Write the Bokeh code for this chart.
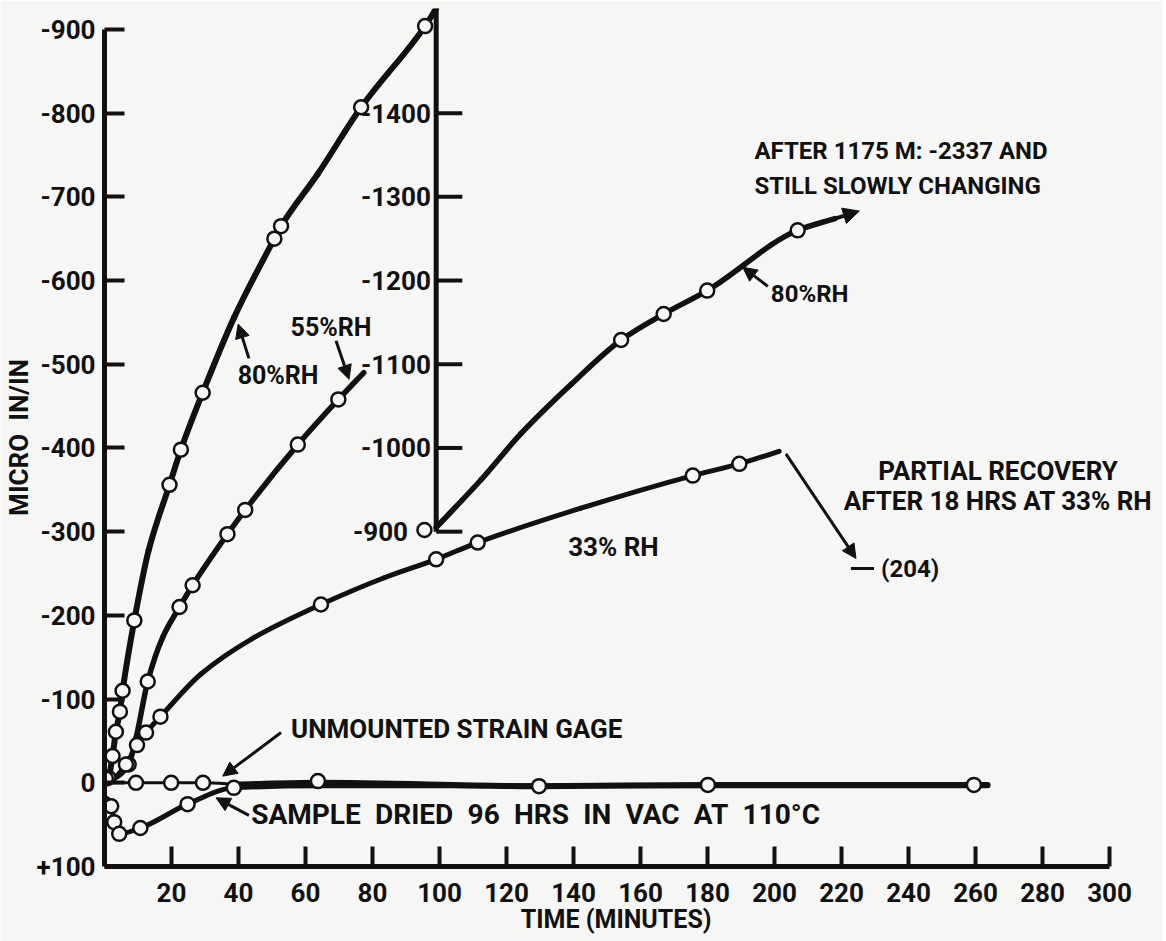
from bokeh.plotting import figure
from bokeh.models import Range1d, FixedTicker, Arrow, NormalHead, Label
from bokeh.core.properties import value
from bokeh.embed import file_html
from bokeh.resources import INLINE

# ---------------- data ----------------
# time in minutes, strain in micro in/in (negative = upward)
x_ticks = [20, 40, 60, 80, 100, 120, 140, 160, 180, 200, 220, 240, 260, 280, 300]
y_ticks = [-900, -800, -700, -600, -500, -400, -300, -200, -100, 0, 100]

# inner (broken) scale for the 80% RH continuation
inner_ticks = [-900, -1000, -1100, -1200, -1300, -1400]
INNER_OFFSET = 600          # inner value = outer value - 600
INNER_AXIS_T = 99

# 80 % RH (outer scale) - drawn curve and measured points
rh80_curve_t = [0, 1.2, 2.4, 3.4, 4.6, 5.4, 8.9, 13.2, 19.4, 22.8, 29.3, 38.7, 50.7, 52.7, 63.6, 76.6, 95.7, 99]
rh80_curve_s = [0, -6, -32, -61, -85, -110, -194, -278, -356, -398, -466, -556, -650, -665, -727, -807, -904, -925]
rh80_pts_t = [1.2, 2.4, 3.4, 4.6, 5.4, 8.9, 19.4, 22.8, 29.3, 50.7, 52.7, 76.6, 95.7]
rh80_pts_s = [-6, -32, -61, -85, -110, -194, -356, -398, -466, -650, -665, -807, -904]

# 80 % RH continued (inner scale)
rh80b_curve_t = [99, 112.4, 124.3, 139.3, 154.2, 166.9, 179.9, 206.9, 218]
rh80b_curve_s = [-905, -962, -1017, -1076, -1129, -1160, -1188, -1260, -1274]
rh80b_pts_t = [95.5, 154.2, 166.9, 179.9, 206.9]
rh80b_pts_s = [-902, -1129, -1160, -1188, -1260]

# 55 % RH
rh55_curve_t = [0, 4, 7.2, 9.5, 12.9, 17.4, 22.4, 26.3, 36.7, 42, 57.7, 69.8, 77.4]
rh55_curve_s = [0, -8, -22, -55, -121, -174, -210, -236, -297, -326, -404, -458, -490]
rh55_pts_t = [7.2, 12.9, 22.4, 26.3, 36.7, 42, 57.7, 69.8]
rh55_pts_s = [-22, -121, -210, -236, -297, -326, -404, -458]

# 33 % RH
rh33_curve_t = [0, 3, 6.4, 9.7, 12.4, 16.7, 28.8, 44, 64.6, 83.5, 99, 111.4, 142.2, 175.6, 189.5, 201.4]
rh33_curve_s = [0, -6, -22, -45, -60, -79, -130, -172, -213, -245, -267, -287, -328, -367, -381, -396]
rh33_pts_t = [6.4, 9.7, 12.4, 16.7, 64.6, 99, 111.4, 175.6, 189.5]
rh33_pts_s = [-22, -45, -60, -79, -213, -267, -287, -367, -381]

# unmounted strain gage
gage_curve_t = [0, 9.4, 19.9, 29.4, 40, 63.7, 129.7, 180.1, 259.5, 263.6]
gage_curve_s = [0, 0, 0, 0, 2, 0, 4, 2.5, 2.5, 2.5]
gage_pts_t = [0.4, 9.4, 19.9, 29.4, 63.7, 129.7, 180.1, 259.5]
gage_pts_s = [-5, 0, 0, 0, -2, 4, 2.5, 2.5]

# sample dried 96 hrs in vac at 110 C
dried_curve_t = [0, 2.0, 2.9, 3.6, 4.4, 10.7, 24.8, 38.6, 63.7, 263.6]
dried_curve_s = [25, 28, 47, 58, 61, 54, 25.5, 6, 3.5, 3.5]
dried_pts_t = [0, 2.0, 2.9, 4.4, 10.7, 24.8, 38.6]
dried_pts_s = [25, 28, 47, 61, 54, 25.5, 6]

# ---------------- figure ----------------
INK = "#111111"
BG = "#f6f6f4"
FONT = "Roboto"
EN = "\u2002"

p = figure(width=1162, height=941, output_backend="svg", toolbar_location=None,
           x_range=Range1d(0, 314.6), y_range=Range1d(100, -925),
           min_border_left=104, min_border_right=4, min_border_top=8, min_border_bottom=75,
           background_fill_color=BG, border_fill_color=BG)
p.grid.visible = False
p.outline_line_color = None

for ax in (p.xaxis[0], p.yaxis[0]):
    ax.axis_line_width = 5
    ax.axis_line_color = INK
    ax.major_tick_line_width = 4
    ax.major_tick_line_color = INK
    ax.major_tick_out = 0
    ax.major_tick_in = 20
    ax.minor_tick_line_color = None
    ax.major_label_text_font = FONT
    ax.major_label_text_font_style = "bold"
    ax.major_label_text_font_size = "26px"
    ax.major_label_text_color = INK
    ax.axis_label_text_font = FONT
    ax.axis_label_text_font_style = "bold"
    ax.axis_label_text_color = INK

p.xaxis.ticker = FixedTicker(ticks=x_ticks)
p.xaxis.bounds = (0, 300)
p.xaxis.major_label_standoff = 16
p.xaxis.axis_label = "TIME (MINUTES)\u2003\u2009"
p.xaxis.axis_label_text_font_size = "25px"
p.xaxis.axis_label_standoff = 0

p.yaxis.ticker = FixedTicker(ticks=y_ticks)
p.yaxis.bounds = (-900, 100)
p.yaxis.major_label_overrides = {v: ("+%d" % v if v > 0 else "%d" % v) for v in y_ticks}
p.yaxis.major_label_standoff = 9
p.yaxis.axis_label = "MICRO" + EN + "IN/IN"
p.yaxis.axis_label_text_font_size = "26px"
p.yaxis.axis_label_standoff = 0

# inner axis
inner_y = [v + INNER_OFFSET for v in inner_ticks]
p.segment(x0=[INNER_AXIS_T], y0=[inner_y[0]], x1=[INNER_AXIS_T], y1=[-925], line_width=5, line_color=INK)
p.segment(x0=[INNER_AXIS_T] * len(inner_y), y0=inner_y, x1=[INNER_AXIS_T + 7.8] * len(inner_y), y1=inner_y,
          line_width=4, line_color=INK)
inner_lab_x = [INNER_AXIS_T - 8.4 if i == 0 else INNER_AXIS_T - 1.6 for i in range(len(inner_y))]
p.text(x=inner_lab_x, y=inner_y, text=[str(v) for v in inner_ticks], text_font=value(FONT),
       text_font_style="bold", text_font_size="26px", text_align="right", text_baseline="middle",
       text_color=INK)

# smooth, shape-preserving curves through the read path points (PCHIP drawn as Bezier segments)
def curve(t, s, w):
    n = len(t)
    h = [t[i + 1] - t[i] for i in range(n - 1)]
    d = [(s[i + 1] - s[i]) / h[i] for i in range(n - 1)]
    m = [0.0] * n
    m[0], m[-1] = d[0], d[-1]
    for i in range(1, n - 1):
        if d[i - 1] * d[i] <= 0:
            m[i] = 0.0
        else:
            w1 = 2 * h[i] + h[i - 1]
            w2 = h[i] + 2 * h[i - 1]
            m[i] = (w1 + w2) / (w1 / d[i - 1] + w2 / d[i])
    x0 = t[:-1]; y0 = s[:-1]; x1 = t[1:]; y1 = s[1:]
    cx0 = [t[i] + h[i] / 3 for i in range(n - 1)]
    cy0 = [s[i] + m[i] * h[i] / 3 for i in range(n - 1)]
    cx1 = [t[i + 1] - h[i] / 3 for i in range(n - 1)]
    cy1 = [s[i + 1] - m[i + 1] * h[i] / 3 for i in range(n - 1)]
    p.bezier(x0=x0, y0=y0, x1=x1, y1=y1, cx0=cx0, cy0=cy0, cx1=cx1, cy1=cy1,
             line_width=w, line_color=INK, line_cap="round")

def pts(t, s):
    p.scatter(t, s, marker="circle", size=14, fill_color=BG, line_color=INK, line_width=2.5)

curve(rh80_curve_t, rh80_curve_s, 6)
curve(rh80b_curve_t, [v + INNER_OFFSET for v in rh80b_curve_s], 5.5)
curve(rh55_curve_t, rh55_curve_s, 5.5)
curve(rh33_curve_t, rh33_curve_s, 5)
curve(gage_curve_t[:5], gage_curve_s[:5], 3)
curve(gage_curve_t[4:], gage_curve_s[4:], 6)
curve(dried_curve_t, dried_curve_s, 5)

pts(rh80_pts_t, rh80_pts_s)
pts(rh80b_pts_t, [v + INNER_OFFSET for v in rh80b_pts_s])
pts(rh55_pts_t, rh55_pts_s)
pts(rh33_pts_t, rh33_pts_s)
pts(gage_pts_t, gage_pts_s)
pts(dried_pts_t, dried_pts_s)

# arrows
def arrow(x0, y0, x1, y1, w=3, size=14):
    p.add_layout(Arrow(end=NormalHead(size=size, fill_color=INK, line_color=INK),
                       x_start=x0, y_start=y0, x_end=x1, y_end=y1, line_width=w, line_color=INK))

arrow(rh80b_curve_t[-1], rh80b_curve_s[-1] + INNER_OFFSET, 225.3, -1283 + INNER_OFFSET, w=4, size=16)
arrow(43.1, -507, 39.9, -548)        # 80%RH (left)
arrow(69.1, -528, 73.0, -482)        # 55%RH
arrow(198.0, -593, 190.5, -616)      # 80%RH (right)
arrow(203.4, -393, 224.3, -268)      # partial recovery
arrow(52.7, -60, 35.3, -8)           # unmounted
arrow(43.1, 39, 33.3, 18)            # dried
p.segment(x0=[222.8], y0=[-256], x1=[229.7], y1=[-256], line_width=3, line_color=INK)

# text annotations
def note(x, y, txt, align="left", size="26px"):
    p.add_layout(Label(x=x, y=y, text=txt, text_font=FONT, text_font_style="bold", text_font_size=size,
                       text_align=align, text_baseline="middle", text_color=INK))

note(51.8, -486, "80%RH", "center", "25px")
note(67.6, -544, "55%RH", "center", "25px")
note(194, -755, "AFTER 1175 M: -2337 AND", size="24px")
note(194, -713, "STILL SLOWLY CHANGING", size="24px")
note(198.9, -584, "80%RH", size="24px")
note(138.4, -282, "33% RH")
note(266.7, -373, "PARTIAL RECOVERY", "center")
note(266.7, -337, "AFTER 18 HRS AT 33% RH", "center")
note(231.8, -256, "(204)", size="24px")
note(55.7, -64, "UNMOUNTED STRAIN GAGE")
note(43.8, 38, EN.join("SAMPLE DRIED 96 HRS IN VAC AT 110\u00b0C".split(" ")), size="28px")

open("out.html", "w").write(file_html(p, INLINE))
